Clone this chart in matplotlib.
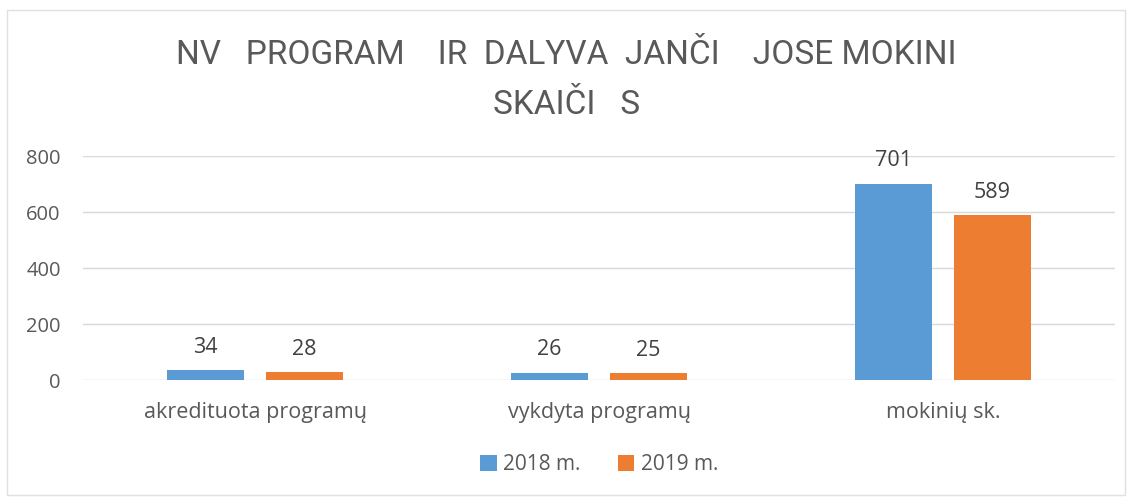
import numpy as np
from matplotlib import pyplot as plt
from matplotlib.patches import Rectangle

categories = ["akredituota programų", "vykdyta programų", "mokinių sk."]
series_names = ["2018 m.", "2019 m."]
values_2018 = [34, 26, 701]
values_2019 = [28, 25, 589]
y_ticks = [0, 200, 400, 600, 800]
title = "NV   PROGRAM    IR  DALYVA  JANČI    JOSE MOKINI\nSKAIČI   S"

colors = ["#5B9BD5", "#ED7D31"]
text_color = "#595959"
body_font = ["Open Sans", "DejaVu Sans"]

plt.rcParams["font.family"] = ["Liberation Sans Narrow", "Roboto", "DejaVu Sans"]

fig = plt.figure(figsize=(11.33, 4.97), dpi=100)
ax = fig.add_axes([83 / 1133, 1 - 380 / 497, (1115 - 83) / 1133, 224 / 497])

x = np.arange(len(categories))
width = 0.224
offset = 0.144

for i, (vals, name) in enumerate(zip([values_2018, values_2019], series_names)):
    pos = x + (offset if i else -offset)
    bars = ax.bar(pos, vals, width=width, color=colors[i], label=name, zorder=3)
    for b, v in zip(bars, vals):
        ax.annotate(str(v), (b.get_x() + b.get_width() / 2, v),
                    xytext=(0, 9), textcoords="offset points",
                    ha="center", va="bottom", fontsize=15.5, color="#404040",
                    family=body_font)

ax.set_xlim(-0.5, len(categories) - 0.5)
ax.set_ylim(0, 800)
ax.set_yticks(y_ticks)
ax.set_xticks(x)
ax.set_xticklabels(categories)
ax.tick_params(axis="both", length=0, labelsize=14.5, colors=text_color)
ax.tick_params(axis="y", pad=16)
ax.tick_params(axis="x", pad=16, labelsize=15.5)
for lab in ax.get_xticklabels() + ax.get_yticklabels():
    lab.set_family(body_font)
ax.grid(axis="y", color="#D9D9D9", linewidth=1, zorder=0)
for s in ax.spines.values():
    s.set_visible(False)

fig.text(0.5, 1 - 80 / 497, title, ha="center", va="center",
         fontsize=24, color=text_color, linespacing=1.7)

ax.legend(loc="center", bbox_to_anchor=(0.5, (380 - 465) / 224),
          ncol=2, frameon=False, handlelength=0.8, handleheight=0.8,
          handletextpad=0.3, columnspacing=1.8,
          prop={"family": body_font, "size": 15},
          labelcolor=text_color)

fig.patches.append(Rectangle((7 / 1133, 2 / 497), 1118 / 1133, 485 / 497,
                             transform=fig.transFigure, fill=False,
                             edgecolor="#E0E0E0", linewidth=1))

fig.savefig("out.png", dpi=100)
plt.close("all")
